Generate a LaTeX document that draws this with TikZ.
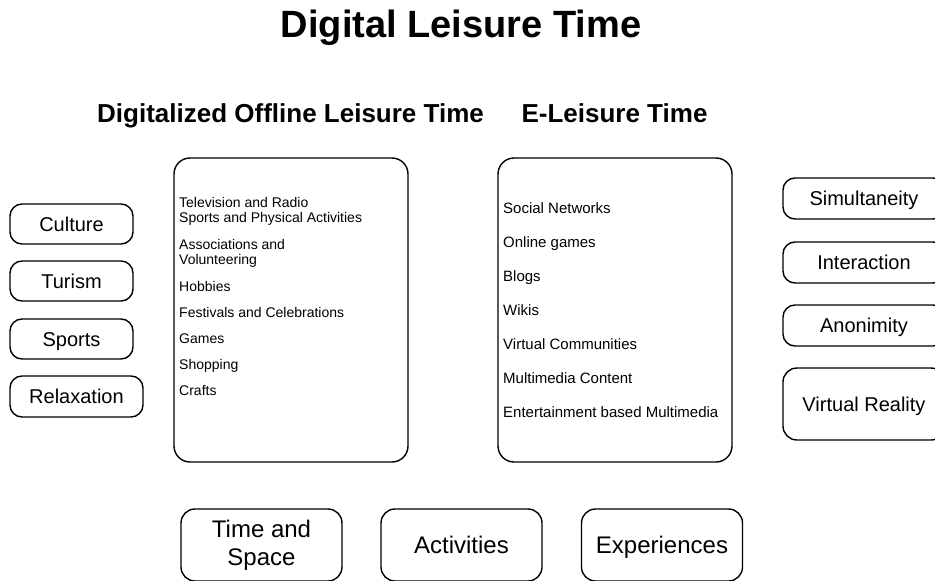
\documentclass[tikz,border=0pt]{standalone}
\usepackage{fontspec}
\setmainfont{Liberation Sans}
\begin{document}
\begin{tikzpicture}[x=1pt,y=-1pt,
  box/.style={draw=black, line width=1.4pt, rounded corners=#1, inner sep=0pt, align=center},
  box/.default=12pt,
  capcenter/.style={text height=#1, text depth=0pt},
  tag/.style={box, minimum width=123pt, minimum height=40pt, font=\fontsize{20}{22}\selectfont, capcenter=14.3pt},
  quality/.style={box, minimum width=162pt, minimum height=41pt, font=\fontsize{20}{22}\selectfont, capcenter=14.3pt},
  pillarbox/.style={box=14pt, minimum width=161pt, minimum height=72pt, font=\fontsize{24}{28}\selectfont},
  pillar/.style={pillarbox, capcenter=17.2pt},
  panel/.style={box=16pt, minimum width=234pt, minimum height=304pt},
  heading/.style={font=\bfseries\fontsize{26}{29}\selectfont, inner sep=0pt, capcenter=18.6pt},
  listing/.style={inner sep=0pt, align=left, anchor=north west}
]
\useasboundingbox (0,0) rectangle (935,581);
\clip (0,0) rectangle (935,581);

% titles
\node[font=\bfseries\fontsize{38}{42}\selectfont, inner sep=0pt, capcenter=27.2pt] (title) at (461,24) {Digital Leisure Time};
\node[heading] (offline) at (290.5,113) {Digitalized Offline Leisure Time};
\node[heading] (eleisure) at (614.5,113) {E-Leisure Time};

% the two central panels
\node[panel] (offbox) at (291,310) {};
\node[panel] (ebox) at (615,310) {};

\node[listing, font=\fontsize{14}{15.5}\selectfont] (offlist) at (179,197)
  {Television and Radio\\
   Sports and Physical Activities\\[11pt]
   Associations and\\
   Volunteering\\[11pt]
   Hobbies\\[11pt]
   Festivals and Celebrations\\[10.5pt]
   Games\\[10.5pt]
   Shopping\\[10.5pt]
   Crafts};

\node[listing, font=\fontsize{15}{17}\selectfont] (elist) at (503,202)
  {Social Networks\\[17pt]
   Online games\\[17pt]
   Blogs\\[17pt]
   Wikis\\[17pt]
   Virtual Communities\\[17pt]
   Multimedia Content\\[17pt]
   Entertainment based Multimedia};

% left-hand tags
\node[tag] (culture) at (71.5,224) {Culture};
\node[tag] (turism) at (71.5,281) {Turism};
\node[tag] (sports) at (71.5,339) {Sports};
\node[tag, minimum width=133pt, minimum height=41pt] (relax) at (76.5,396.5) {Relaxation};

% right-hand qualities
\node[quality] (simul) at (864,198.5) {Simultaneity};
\node[quality] (inter) at (864,262.5) {Interaction};
\node[quality] (anon) at (864,325.5) {Anonimity};
\node[quality, minimum height=72pt, rounded corners=14pt] (vr) at (864,404) {Virtual Reality};

% bottom pillars
\node[pillarbox] (timespace) at (261.5,545) {\raisebox{-2pt}{Time and}\\\raisebox{-2pt}{Space}};
\node[pillar] (activities) at (461.5,545) {Activities};
\node[pillar] (experiences) at (662,545) {Experiences};
\end{tikzpicture}
\end{document}
